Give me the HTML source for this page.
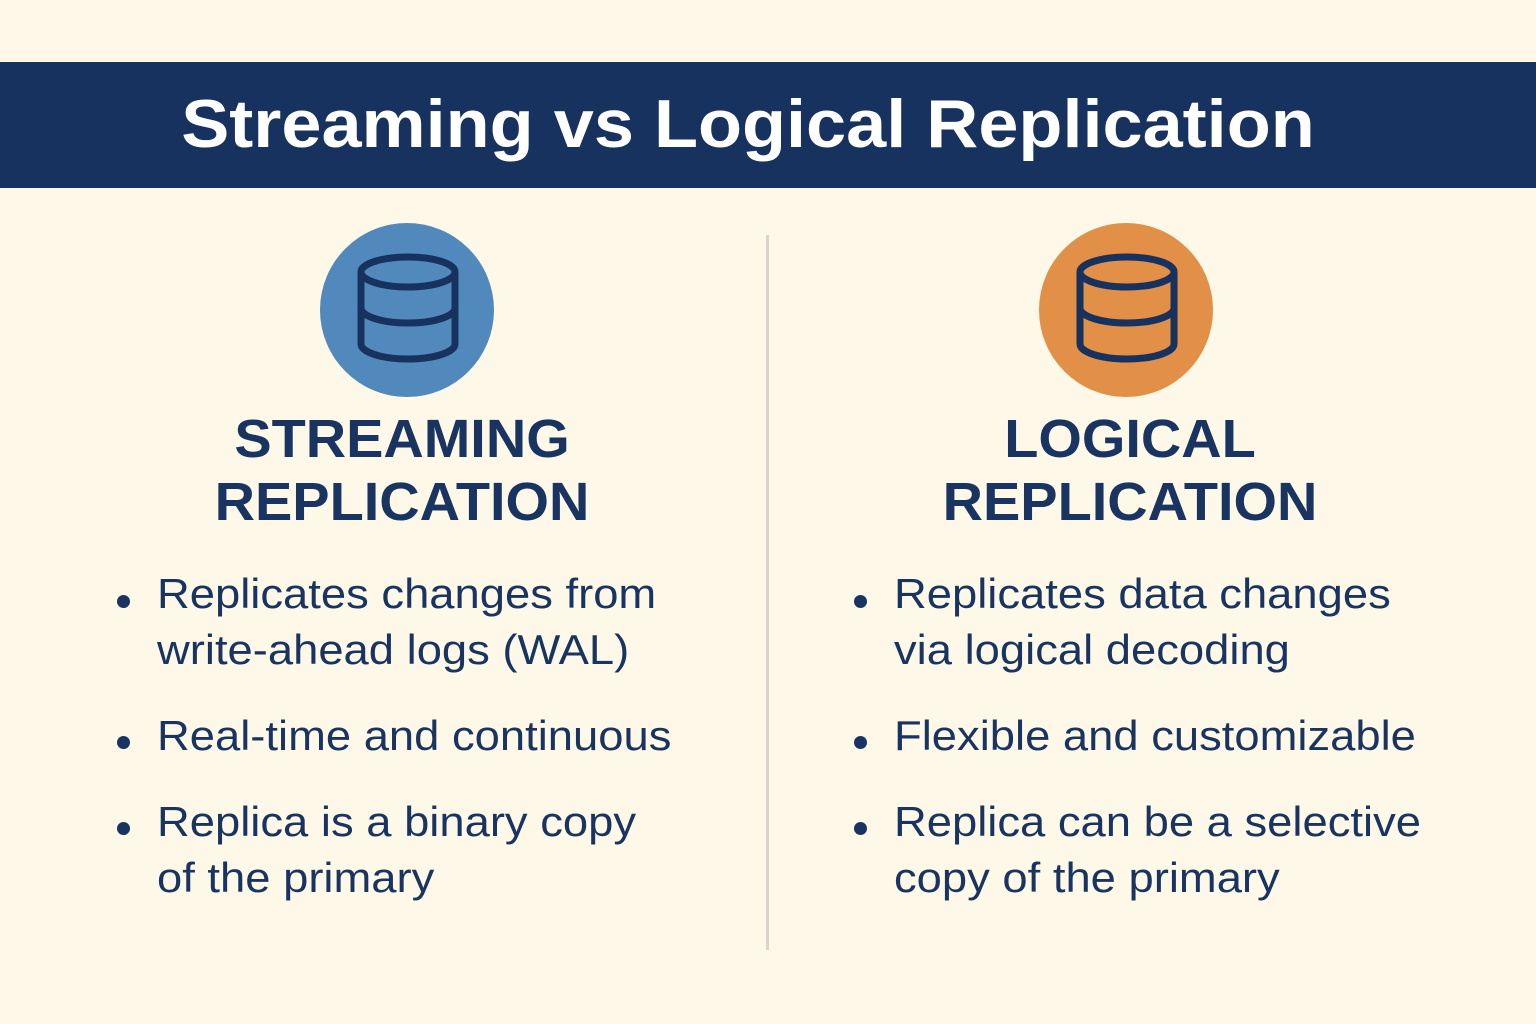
<!DOCTYPE html>
<html><head><meta charset="utf-8"><style>
body{margin:0;width:1536px;height:1024px;background:#fdf8e7;position:relative;overflow:hidden;font-family:"Liberation Sans",sans-serif;color:#1a3461}
.banner{position:absolute;left:0;top:62px;width:1536px;height:126px;background:#17325e}
.title{position:absolute;left:0;width:1496px;top:84px;text-align:center;color:#fff;font-weight:bold;font-size:68px;line-height:80px;transform:scaleX(1.06);transform-origin:748px 0}
.h{position:absolute;width:600px;text-align:center;font-weight:bold;font-size:54px;line-height:63px;top:408px;transform:scaleX(1.035)}
.t{position:absolute;font-size:42px;line-height:56px;white-space:nowrap;transform:scaleX(1.08);transform-origin:0 0}
.b{position:absolute;width:13px;height:13px;border-radius:50%;background:#1a3461}
.div{position:absolute;left:766px;top:235px;width:3px;height:715px;background:#d8d6cc}
</style></head><body>
<div class="banner"></div>
<div class="title">Streaming vs Logical Replication</div>
<div class="div"></div>
<svg width="1536" height="1024" style="position:absolute;left:0;top:0">
<circle cx="407" cy="310" r="87" fill="#5189bd"/>
<circle cx="1126" cy="310" r="87" fill="#e28f47"/>
<g fill="none" stroke="#17325e" stroke-width="7">
<g>
<ellipse cx="408" cy="272" rx="47" ry="15"/>
<path d="M361 272 V344 A47 15 0 0 0 455 344 V272"/>
<path d="M361 308 A47 15 0 0 0 455 308"/>
</g>
<g transform="translate(719,0)">
<ellipse cx="408" cy="272" rx="47" ry="15"/>
<path d="M361 272 V344 A47 15 0 0 0 455 344 V272"/>
<path d="M361 308 A47 15 0 0 0 455 308"/>
</g>
</g>
</svg>
<div class="h" style="left:102px">STREAMING<br>REPLICATION</div>
<div class="h" style="left:830px">LOGICAL<br>REPLICATION</div>

<div class="b" style="left:117px;top:595px"></div>
<div class="t" style="left:157px;top:566px">Replicates changes from<br>write-ahead logs (WAL)</div>
<div class="b" style="left:117px;top:736px"></div>
<div class="t" style="left:157px;top:708px">Real-time and continuous</div>
<div class="b" style="left:117px;top:822px"></div>
<div class="t" style="left:157px;top:794px">Replica is a binary copy<br>of the primary</div>

<div class="b" style="left:854px;top:595px"></div>
<div class="t" style="left:894px;top:566px">Replicates data changes<br>via logical decoding</div>
<div class="b" style="left:854px;top:736px"></div>
<div class="t" style="left:894px;top:708px">Flexible and customizable</div>
<div class="b" style="left:854px;top:822px"></div>
<div class="t" style="left:894px;top:794px">Replica can be a selective<br>copy of the primary</div>
</body></html>
